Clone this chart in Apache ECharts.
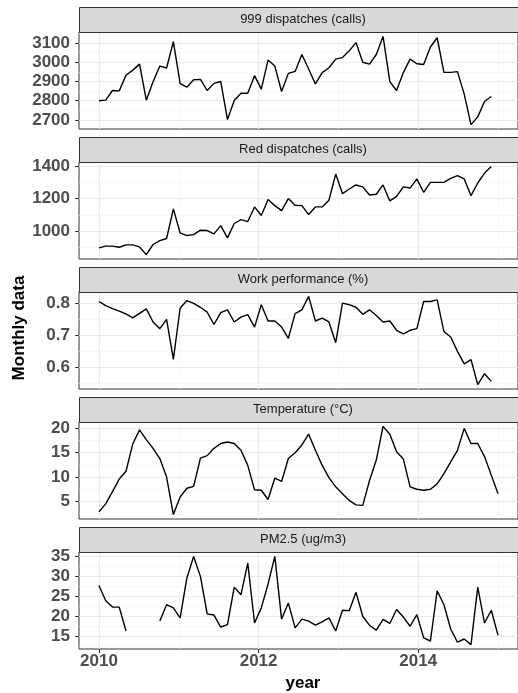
<!DOCTYPE html>
<html>
<head>
<meta charset="utf-8">
<script src="https://cdn.jsdelivr.net/npm/echarts@6/dist/echarts.min.js"></script>
<style>
  html, body { margin: 0; padding: 0; background: #ffffff; }
  #chart { width: 518px; height: 693px; }
</style>
</head>
<body>
<div id="chart"></div>
<script>
// Monthly series, sampled evenly from 2010 onwards
const dispatches999 = [2800, 2803, 2853, 2851, 2932, 2959, 2990, 2803, 2899, 2980,
  2970, 3107, 2889, 2870, 2909, 2911, 2853, 2890, 2900, 2702,
  2801, 2839, 2839, 2930, 2860, 3011, 2980, 2848, 2942, 2952,
  3040, 2965, 2887, 2946, 2971, 3016, 3024, 3059, 3102, 3000,
  2990, 3040, 3134, 2899, 2853, 2946, 3016, 2992, 2988, 3079,
  3127, 2947, 2947, 2951, 2834, 2676, 2716, 2796, 2822];

const redDispatches = [897, 908, 908, 901, 916, 916, 903, 856, 918, 942,
  955, 1137, 989, 973, 979, 1006, 1004, 983, 1034, 959,
  1047, 1071, 1059, 1149, 1096, 1194, 1157, 1126, 1200, 1159,
  1157, 1102, 1149, 1149, 1190, 1351, 1231, 1259, 1284, 1272,
  1222, 1227, 1284, 1186, 1214, 1272, 1265, 1321, 1239, 1300,
  1300, 1300, 1325, 1341, 1321, 1218, 1296, 1357, 1398];

const workPerformance = [0.805, 0.792, 0.783, 0.775, 0.766, 0.754, 0.768, 0.782, 0.741, 0.720,
  0.749, 0.624, 0.784, 0.808, 0.799, 0.787, 0.772, 0.733, 0.770, 0.779,
  0.741, 0.756, 0.764, 0.725, 0.795, 0.744, 0.744, 0.725, 0.690, 0.767,
  0.779, 0.821, 0.744, 0.753, 0.741, 0.676, 0.800, 0.795, 0.787, 0.765,
  0.779, 0.761, 0.741, 0.744, 0.715, 0.704, 0.715, 0.720, 0.805, 0.805,
  0.810, 0.711, 0.694, 0.649, 0.610, 0.623, 0.545, 0.579, 0.555];

const temperature = [2.9, 4.5, 7.0, 9.6, 11.2, 16.8, 19.7, 17.7, 15.9, 13.8,
  10.0, 2.3, 5.9, 7.7, 8.1, 13.9, 14.4, 15.9, 16.9, 17.2,
  16.9, 15.5, 12.4, 7.4, 7.3, 5.4, 9.8, 9.1, 13.8, 15.0,
  16.6, 18.8, 15.5, 12.4, 9.9, 8.0, 6.6, 5.2, 4.3, 4.2,
  9.3, 13.5, 20.4, 18.8, 15.2, 13.7, 8.0, 7.5, 7.3, 7.5,
  8.6, 10.7, 13.1, 15.5, 20.0, 16.9, 16.9, 14.2, 10.4, 6.6];

const pm25 = [27.7, 23.9, 22.3, 22.3, 16.3, null, null, null, null, 18.8,
  22.9, 22.1, 19.6, 29.6, 35.0, 30.0, 20.6, 20.3, 17.3, 17.9,
  27.3, 25.4, 33.3, 18.3, 22.1, 28.1, 35.0, 19.3, 23.3, 17.1,
  19.3, 18.8, 17.8, 18.6, 19.6, 16.3, 21.5, 21.4, 26.0, 20.0,
  17.7, 16.5, 19.2, 18.2, 21.7, 19.8, 17.5, 20.4, 14.6, 13.8,
  26.4, 22.9, 16.8, 13.5, 14.3, 12.9, 27.3, 18.3, 21.5, 15.2];

const panelTitles = ['999 dispatches (calls)', 'Red dispatches (calls)',
  'Work performance (%)', 'Temperature (\u00B0C)', 'PM2.5 (ug/m3)'];

const yTicks999 = [2700, 2800, 2900, 3000, 3100];
const yTicksRed = [1000, 1200, 1400];
const yTicksWork = [0.6, 0.7, 0.8];
const yTicksTemp = [5, 10, 15, 20];
const yTicksPm = [15, 20, 25, 30, 35];

const xTickYears = [2010, 2012, 2014];
const xMinorYears = [2011, 2013, 2015];

const startYear = 2010;
const sampleStep = 5 / 59;          // years between consecutive samples
const xMin = 2009.75, xMax = 2015.25;

// layout (px)
const FONT = '"Liberation Sans", Arial, Helvetica, sans-serif';
const PANEL_LEFT = 79;
const PANEL_WIDTH = 448;
const FIRST_TOP = 32;
const PANEL_H = 97;
const PANEL_PITCH = 130;
const STRIP_H = 25;

const panels = [
  { title: panelTitles[0], values: dispatches999, ticks: yTicks999 },
  { title: panelTitles[1], values: redDispatches, ticks: yTicksRed },
  { title: panelTitles[2], values: workPerformance, ticks: yTicksWork },
  { title: panelTitles[3], values: temperature, ticks: yTicksTemp },
  { title: panelTitles[4], values: pm25, ticks: yTicksPm }
];

// range with a 5% pad on both ends
function paddedRange(vals) {
  const v = vals.filter(d => d !== null);
  const lo = Math.min(...v), hi = Math.max(...v);
  const pad = (hi - lo) * 0.05;
  return [lo - pad, hi + pad];
}

// half-way breaks between the labelled ones, kept inside the range
function minorBreaks(ticks, lo, hi) {
  const step = ticks[1] - ticks[0];
  const out = [];
  for (let i = -1; i < ticks.length; i++) {
    const v = ticks[0] + step * (i + 0.5);
    if (v > lo && v < hi) out.push(+v.toFixed(6));
  }
  return out;
}

const majorLine = { color: '#EBEBEB', width: 1.1, type: 'solid' };
const minorLine = { color: '#F3F3F3', width: 0.6, type: 'solid' };

const grids = [], xAxes = [], yAxes = [], series = [], graphics = [];
const last = panels.length - 1;

panels.forEach((p, k) => {
  const top = FIRST_TOP + k * PANEL_PITCH;
  const [lo, hi] = paddedRange(p.values);

  grids.push({
    left: PANEL_LEFT, top: top, width: PANEL_WIDTH, height: PANEL_H,
    show: true, backgroundColor: '#ffffff', borderColor: '#333333', borderWidth: 1
  });

  xAxes.push({
    gridIndex: k, type: 'value', min: xMin, max: xMax,
    axisLine: { show: false },
    splitLine: { show: false },
    axisTick: { show: k === last, customValues: xTickYears, length: 4,
                lineStyle: { color: '#333333', width: 1 } },
    axisLabel: { show: k === last, customValues: xTickYears, margin: 4,
                 fontSize: 17, fontWeight: 'bold', color: '#4D4D4D', fontFamily: FONT,
                 formatter: v => String(v) }
  });

  yAxes.push({
    gridIndex: k, type: 'value', min: lo, max: hi,
    axisLine: { show: false },
    splitLine: { show: false },
    axisTick: { show: true, customValues: p.ticks, length: 4,
                lineStyle: { color: '#333333', width: 1 } },
    axisLabel: { customValues: p.ticks, margin: 9,
                 fontSize: 17, fontWeight: 'bold', color: '#4D4D4D', fontFamily: FONT,
                 formatter: v => String(v) }
  });

  const gridItems = [];
  minorBreaks(p.ticks, lo, hi).forEach(v => gridItems.push({ yAxis: v, lineStyle: minorLine }));
  xMinorYears.forEach(v => gridItems.push({ xAxis: v, lineStyle: minorLine }));
  p.ticks.forEach(v => gridItems.push({ yAxis: v, lineStyle: majorLine }));
  xTickYears.forEach(v => gridItems.push({ xAxis: v, lineStyle: majorLine }));

  // background grid lines, kept underneath the data line
  series.push({
    type: 'line', xAxisIndex: k, yAxisIndex: k, data: [], silent: true, z: 1,
    markLine: {
      z: 1, zlevel: 0,
      silent: true, symbol: ['none', 'none'], animation: false,
      label: { show: false }, emphasis: { disabled: true },
      data: gridItems
    }
  });

  series.push({
    type: 'line', xAxisIndex: k, yAxisIndex: k, z: 20,
    data: p.values.map((v, j) => [startYear + j * sampleStep, v === null ? '-' : v]),
    showSymbol: false, symbol: 'none', connectNulls: false,
    lineStyle: { color: '#000000', width: 1.4 },
    emphasis: { disabled: true }
  });

  // facet strip
  graphics.push({
    type: 'rect', silent: true, z: 30,
    shape: { x: PANEL_LEFT + 0.5, y: top - STRIP_H + 0.5, width: PANEL_WIDTH, height: STRIP_H },
    style: { fill: '#D9D9D9', stroke: '#333333', lineWidth: 1 }
  });
  graphics.push({
    type: 'text', silent: true, z: 31,
    x: PANEL_LEFT + PANEL_WIDTH / 2, y: top - STRIP_H / 2,
    style: { text: p.title, fill: '#1A1A1A', font: '13px ' + FONT,
             textAlign: 'center', textVerticalAlign: 'middle' }
  });
});

// axis titles
const plotBottom = FIRST_TOP + last * PANEL_PITCH + PANEL_H;
graphics.push({
  type: 'text', silent: true, z: 31,
  x: PANEL_LEFT + PANEL_WIDTH / 2, y: plotBottom + 34,
  style: { text: 'year', fill: '#000000', font: 'bold 17px ' + FONT,
           textAlign: 'center', textVerticalAlign: 'middle' }
});
graphics.push({
  type: 'text', silent: true, z: 31,
  x: 19, y: (FIRST_TOP - STRIP_H + plotBottom) / 2, rotation: Math.PI / 2,
  style: { text: 'Monthly data', fill: '#000000', font: 'bold 17px ' + FONT,
           textAlign: 'center', textVerticalAlign: 'middle' }
});

const chart = echarts.init(document.getElementById('chart'), null, { renderer: 'canvas' });
chart.setOption({
  animation: false,
  backgroundColor: '#ffffff',
  grid: grids,
  xAxis: xAxes,
  yAxis: yAxes,
  series: series,
  graphic: graphics
});
</script>
</body>
</html>
